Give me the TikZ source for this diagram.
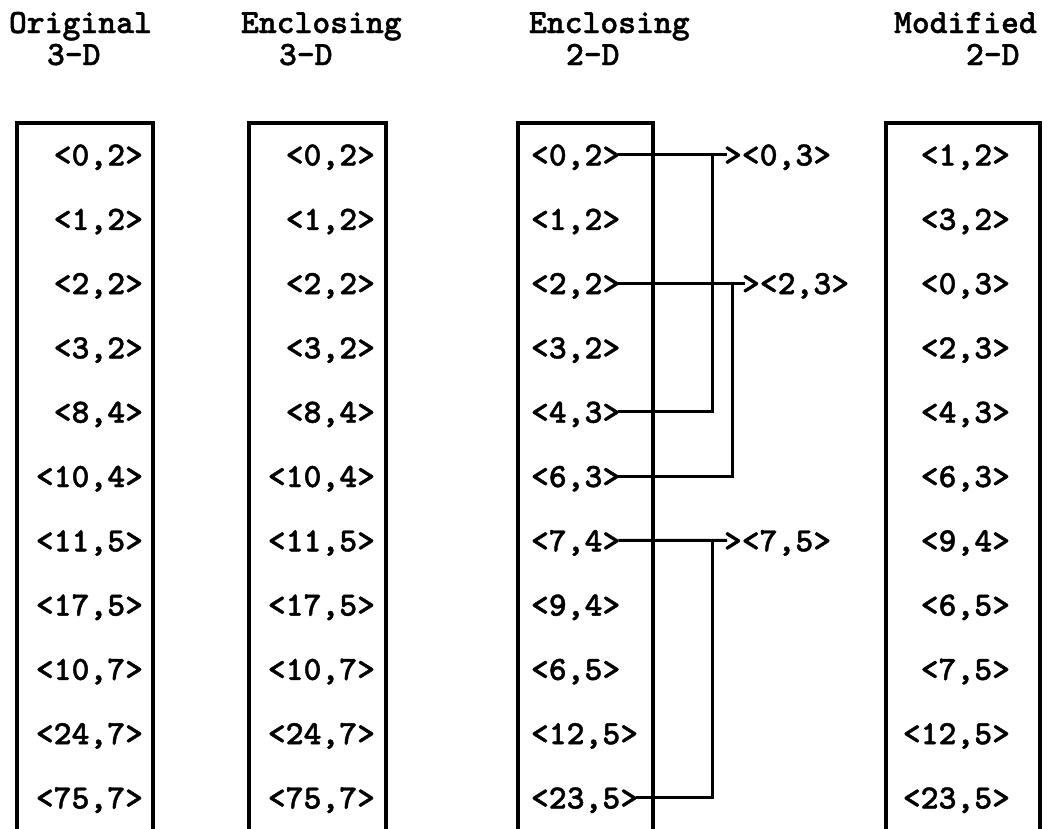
\documentclass[tikz,border=0pt]{standalone}
\usepackage{fontspec}
\usetikzlibrary{calc}
\newfontfamily\boldmono{lmmonolt10-bold.otf}[FakeBold=1.2]
\begin{document}
\begin{tikzpicture}[x=1pt,y=-1pt,
  lbl/.style={inner sep=0pt, outer sep=0pt, font=\fontsize{34}{40}\selectfont\boldmono},
  colbox/.style={draw, line width=3.4pt, inner sep=0pt, outer sep=0pt, anchor=north west},
  conn/.style={line width=3pt}]
\useasboundingbox (0,0) rectangle (1055,828);

% column headings
\node[lbl, anchor=base west] (h1a) at (9,33)   {Original};
\node[lbl, anchor=base west] (h1b) at (47,65)  {3-D};
\node[lbl, anchor=base west] (h2a) at (241,33) {Enclosing};
\node[lbl, anchor=base west] (h2b) at (279,65) {3-D};
\node[lbl, anchor=base west] (h3a) at (529,33) {Enclosing};
\node[lbl, anchor=base west] (h3b) at (566,65) {2-D};
\node[lbl, anchor=base west] (h4a) at (894,33) {Modified};
\node[lbl, anchor=base west] (h4b) at (966,65) {2-D};

% column frames (running off the bottom edge)
\node[colbox, minimum width=136, minimum height=710] (boxA) at (17,123)  {};
\node[colbox, minimum width=137, minimum height=710] (boxB) at (249,123) {};
\node[colbox, minimum width=135, minimum height=710] (boxC) at (518,123) {};
\node[colbox, minimum width=154, minimum height=710] (boxD) at (886,123) {};

% column entries
\foreach \t [count=\i from 0] in {{<0,2>},{<1,2>},{<2,2>},{<3,2>},{<8,4>},{<10,4>},{<11,5>},{<17,5>},{<10,7>},{<24,7>},{<75,7>}}{
  \pgfmathsetmacro\yy{165.5+64.3*\i}
  \node[lbl, anchor=base east] (a\i) at (143,\yy) {\t};
}
\foreach \t [count=\i from 0] in {{<0,2>},{<1,2>},{<2,2>},{<3,2>},{<8,4>},{<10,4>},{<11,5>},{<17,5>},{<10,7>},{<24,7>},{<75,7>}}{
  \pgfmathsetmacro\yy{165.5+64.3*\i}
  \node[lbl, anchor=base east] (b\i) at (375,\yy) {\t};
}
\foreach \t [count=\i from 0] in {{<0,2>},{<1,2>},{<2,2>},{<3,2>},{<4,3>},{<6,3>},{<7,4>},{<9,4>},{<6,5>},{<12,5>},{<23,5>}}{
  \pgfmathsetmacro\yy{165.5+64.3*\i}
  \node[lbl, anchor=base west] (c\i) at (531,\yy) {\t};
}
\foreach \t [count=\i from 0] in {{<1,2>},{<3,2>},{<0,3>},{<2,3>},{<4,3>},{<6,3>},{<9,4>},{<6,5>},{<7,5>},{<12,5>},{<23,5>}}{
  \pgfmathsetmacro\yy{165.5+64.3*\i}
  \node[lbl, anchor=base east] (d\i) at (1010,\yy) {\t};
}

% merged entries
\node[lbl, anchor=base west] (m03) at (724,165.5) {><0,3>};
\node[lbl, anchor=base west] (m23) at (742,294.1) {><2,3>};
\node[lbl, anchor=base west] (m75) at (724,551.3) {><7,5>};

% connectors
\draw[conn] ($(c0.base east)+(-2,-11)$) -- ($(m03.base west)+(3,-11)$);
\draw[conn] ($(c4.base east)+(-2,-11)$) -| ($(m03.base west)+(-12,-11)$);
\draw[conn] ($(c2.base east)+(-2,-11)$) -- ($(m23.base west)+(3,-11)$);
\draw[conn] ($(c5.base east)+(-2,-11)$) -| ($(m23.base west)+(-10,-11)$);
\draw[conn] ($(c6.base east)+(-2,-11)$) -- ($(m75.base west)+(3,-11)$);
\draw[conn] ($(c10.base east)+(-2,-11)$) -| ($(m75.base west)+(-12,-11)$);
\end{tikzpicture}
\end{document}
